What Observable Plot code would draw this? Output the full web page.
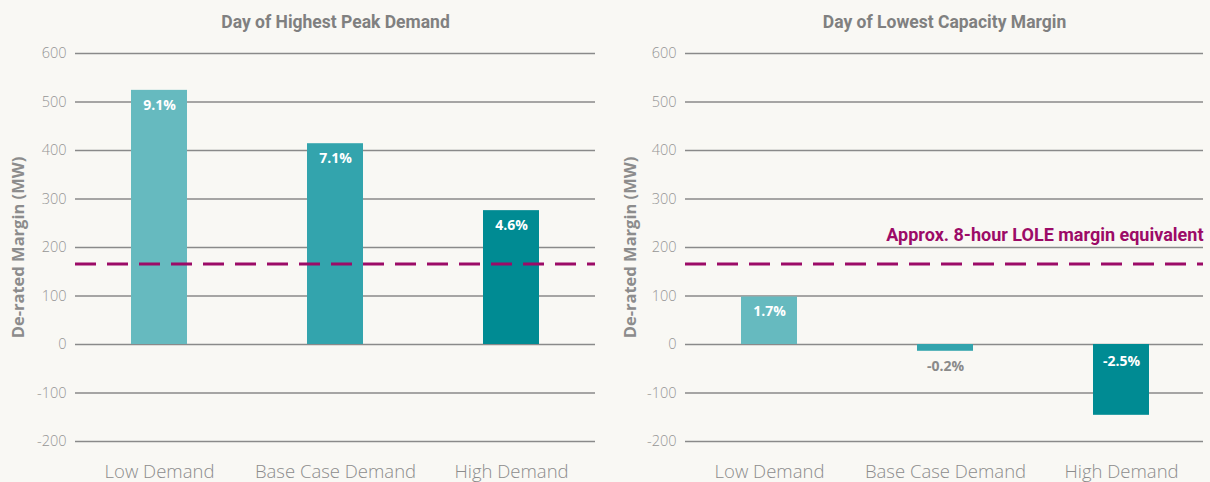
<!DOCTYPE html>
<html>
<head>
<meta charset="utf-8">
<script src="https://cdn.jsdelivr.net/npm/d3@7"></script>
<script src="https://cdn.jsdelivr.net/npm/@observablehq/plot@0.6"></script>
<style>
  html, body { margin: 0; padding: 0; background: #f9f8f4; }
  #wrap { display: flex; width: 1210px; height: 482px; overflow: hidden; }
  #wrap svg { display: block; flex: none; }
</style>
</head>
<body>
<div id="wrap"></div>
<script>
const categories = ["Low Demand", "Base Case Demand", "High Demand"];
const peakValues = [524, 414, 276];
const peakLabels = ["9.1%", "7.1%", "4.6%"];
const marginValues = [98, -14, -146];
const marginLabels = ["1.7%", "-0.2%", "-2.5%"];
const loleThreshold = 166;
const loleLabel = "Approx. 8-hour LOLE margin equivalent";
const yTicks = [-200, -100, 0, 100, 200, 300, 400, 500, 600];
const barColors = ["#66babf", "#33a4ad", "#008b93"];
const titles = ["Day of Highest Peak Demand", "Day of Lowest Capacity Margin"];
const yLabel = "De-rated Margin (MW)";

const condensed = "Roboto, 'Noto Sans', sans-serif";
const regular = "'Open Sans', 'Noto Sans', sans-serif";

function panel({values, labels, title, showLole, marginLeft, marginRight, xRange, yLabelDx}) {
  const rows = categories.map((c, i) => ({cat: c, value: values[i], label: labels[i]}));
  const posRows = rows.filter(d => d.value >= 0);
  const negInside = rows.filter(d => d.value < -50);
  const negOutside = rows.filter(d => d.value < 0 && d.value >= -50);
  const marks = [
    Plot.ruleY(yTicks, {stroke: "#8a8a8a", strokeWidth: 1.3}),
    Plot.barY(rows, {x: "cat", y: "value", fill: (d, i) => barColors[i], insetLeft: 60, insetRight: 60}),
    Plot.text(posRows, {x: "cat", y: "value", text: "label", fill: "white", fontWeight: "bold", fontSize: 14, dy: 15, fontFamily: regular}),
    Plot.text(negInside, {x: "cat", y: 0, text: "label", fill: "white", fontWeight: "bold", fontSize: 14, dy: 17, fontFamily: regular}),
    Plot.text(negOutside, {x: "cat", y: d => d.value, text: "label", fill: "#8a8a8a", fontWeight: "bold", fontSize: 14, dy: 15, fontFamily: regular}),
    Plot.ruleY([loleThreshold], {stroke: "#9c0b67", strokeWidth: 3, strokeDasharray: "21,11"}),
    Plot.axisY({ticks: yTicks, tickSize: 0, tickPadding: 9, tickFormat: d => String(d), label: null, fontSize: 14.5, fill: "#959595", fontFamily: regular, fontWeight: 300}),
    Plot.axisX({tickSize: 0, tickPadding: 23, label: null, fontSize: 18.5, fill: "#8c8c8c", fontFamily: regular, fontWeight: 300}),
    Plot.text([title], {frameAnchor: "top", dy: -38, text: d => d, fontSize: 17.5, fontWeight: "bold", fill: "#808080", fontFamily: condensed}),
    Plot.text([yLabel], {frameAnchor: "left", textAnchor: "middle", lineAnchor: "middle", rotate: -90, dx: yLabelDx, text: d => d, fontSize: 16.5, fontWeight: "bold", fill: "#8c8c8c", fontFamily: regular})
  ];
  if (showLole) {
    marks.push(Plot.text([loleLabel], {y: () => loleThreshold, frameAnchor: "right", textAnchor: "end", dy: -29, text: d => d, fontSize: 18, fontWeight: "bold", fill: "#9c0b67", fontFamily: condensed}));
  }
  return Plot.plot({
    width: 605,
    height: 482,
    marginTop: 53,
    marginBottom: 41,
    marginLeft,
    marginRight,
    style: {background: "transparent", overflow: "visible"},
    x: {domain: categories, range: xRange, padding: 0},
    y: {domain: [-200, 600]},
    marks
  });
}

const wrap = document.getElementById("wrap");
wrap.appendChild(panel({values: peakValues, labels: peakLabels, title: titles[0], showLole: false, marginLeft: 75, marginRight: 10, xRange: [70.5, 598.5], yLabelDx: -57}));
wrap.appendChild(panel({values: marginValues, labels: marginLabels, title: titles[1], showLole: true, marginLeft: 80, marginRight: 7, xRange: [75, 604], yLabelDx: -55}));
</script>
</body>
</html>
